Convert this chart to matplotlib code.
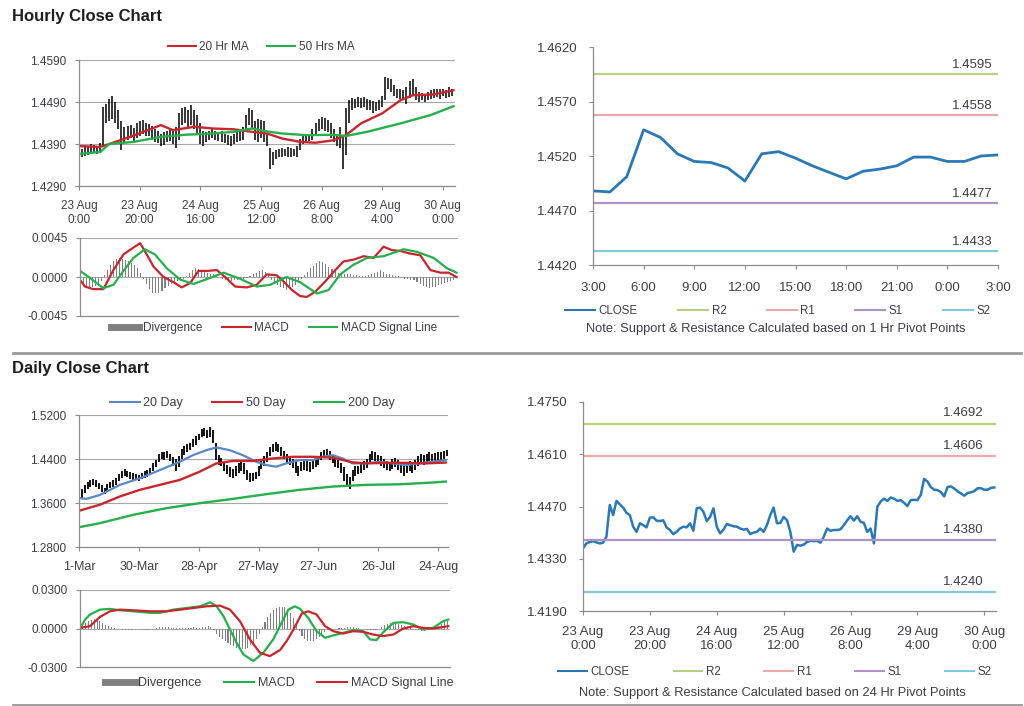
import numpy as np
import matplotlib.pyplot as plt
from matplotlib.lines import Line2D

plt.rcParams['font.family'] = ['Liberation Sans', 'DejaVu Sans']
plt.rcParams['font.size'] = 8

# ---------------- data ----------------
# hourly highs / lows (23 Aug 0:00 -> 30 Aug 3:00, 124 bars)
h_low = [1.4352, 1.4358, 1.4362, 1.4365, 1.4368, 1.4370, 1.4366, 1.4368, 1.4385, 1.4440,
         1.4445, 1.4450, 1.4440, 1.4425, 1.4375, 1.4395, 1.4400, 1.4405, 1.4398, 1.4405,
         1.4410, 1.4415, 1.4410, 1.4408, 1.4400, 1.4395, 1.4392, 1.4385, 1.4388, 1.4395,
         1.4398, 1.4390, 1.4380, 1.4400, 1.4435, 1.4440, 1.4430, 1.4435, 1.4425, 1.4415,
         1.4390, 1.4385, 1.4395, 1.4400, 1.4405, 1.4400, 1.4398, 1.4395, 1.4392, 1.4388,
         1.4385, 1.4390, 1.4395, 1.4398, 1.4400, 1.4420, 1.4435, 1.4425, 1.4400, 1.4395,
         1.4405, 1.4395, 1.4385, 1.4330, 1.4340, 1.4355, 1.4358, 1.4360, 1.4362, 1.4358,
         1.4360, 1.4362, 1.4358, 1.4375, 1.4390, 1.4395, 1.4398, 1.4400, 1.4410, 1.4420,
         1.4425, 1.4420, 1.4418, 1.4405, 1.4395, 1.4385, 1.4380, 1.4330, 1.4365, 1.4440,
         1.4470, 1.4475, 1.4478, 1.4475, 1.4478, 1.4472, 1.4470, 1.4465, 1.4468, 1.4472,
         1.4478, 1.4495, 1.4520, 1.4515, 1.4505, 1.4500, 1.4498, 1.4495, 1.4485, 1.4500,
         1.4505, 1.4495, 1.4490, 1.4495, 1.4490, 1.4495, 1.4498, 1.4500, 1.4502, 1.4498,
         1.4505, 1.4500, 1.4502, 1.4505]
h_high = [1.4372, 1.4378, 1.4382, 1.4385, 1.4390, 1.4388, 1.4386, 1.4392, 1.4478, 1.4485,
          1.4498, 1.4505, 1.4490, 1.4470, 1.4445, 1.4430, 1.4432, 1.4435, 1.4428, 1.4440,
          1.4445, 1.4448, 1.4440, 1.4438, 1.4432, 1.4425, 1.4420, 1.4415, 1.4418, 1.4422,
          1.4428, 1.4425, 1.4430, 1.4465, 1.4475, 1.4478, 1.4470, 1.4482, 1.4470, 1.4460,
          1.4440, 1.4420, 1.4418, 1.4422, 1.4425, 1.4420, 1.4418, 1.4420, 1.4415, 1.4412,
          1.4410, 1.4415, 1.4418, 1.4420, 1.4430, 1.4460, 1.4475, 1.4472, 1.4445, 1.4450,
          1.4448, 1.4445, 1.4415, 1.4380, 1.4372, 1.4375, 1.4378, 1.4380, 1.4378, 1.4382,
          1.4380, 1.4378, 1.4385, 1.4402, 1.4415, 1.4412, 1.4415, 1.4425, 1.4440, 1.4450,
          1.4455, 1.4452, 1.4448, 1.4440, 1.4425, 1.4415, 1.4430, 1.4410, 1.4475, 1.4495,
          1.4500, 1.4498, 1.4502, 1.4500, 1.4503, 1.4498, 1.4495, 1.4492, 1.4490, 1.4495,
          1.4505, 1.4550, 1.4548, 1.4545, 1.4530, 1.4522, 1.4520, 1.4518, 1.4525, 1.4540,
          1.4545, 1.4525, 1.4515, 1.4512, 1.4510, 1.4515, 1.4518, 1.4520, 1.4522, 1.4520,
          1.4522, 1.4518, 1.4525, 1.4522]
# hourly closes (same 124 bars)
h_close = [1.4358, 1.4371, 1.4375, 1.4377, 1.4374, 1.4371, 1.4373, 1.4389, 1.4474, 1.4447,
           1.4485, 1.4476, 1.4467, 1.4453, 1.4447, 1.4416, 1.4402, 1.4425, 1.4420, 1.4414,
           1.4440, 1.4441, 1.4432, 1.4431, 1.4433, 1.4414, 1.4407, 1.4396, 1.4402, 1.4411,
           1.4416, 1.4414, 1.4425, 1.4405, 1.4465, 1.4467, 1.4456, 1.4431, 1.4442, 1.4465,
           1.4416, 1.4398, 1.4408, 1.4423, 1.4420, 1.4417, 1.4416, 1.4411, 1.4408, 1.4410,
           1.4396, 1.4400, 1.4402, 1.4411, 1.4402, 1.4420, 1.4447, 1.4467, 1.4425, 1.4426,
           1.4442, 1.4433, 1.4402, 1.4349, 1.4367, 1.4365, 1.4368, 1.4375, 1.4378, 1.4377,
           1.4378, 1.4373, 1.4389, 1.4411, 1.4405, 1.4407, 1.4407, 1.4409, 1.4420, 1.4433,
           1.4444, 1.4432, 1.4444, 1.4429, 1.4426, 1.4402, 1.4411, 1.4371, 1.4469, 1.4483,
           1.4491, 1.4485, 1.4494, 1.4491, 1.4485, 1.4487, 1.4480, 1.4471, 1.4487,
           1.4488, 1.4487, 1.4501, 1.4544, 1.4537, 1.4522, 1.4515, 1.4514, 1.4509, 1.4497,
           1.4522, 1.4524, 1.4518, 1.4511, 1.4505, 1.4499, 1.4506, 1.4508, 1.4511, 1.4519,
           1.4519, 1.4515, 1.4515, 1.4520, 1.4521]
h_ticklabels = ['23 Aug\n0:00', '23 Aug\n20:00', '24 Aug\n16:00', '25 Aug\n12:00',
                '26 Aug\n8:00', '29 Aug\n4:00', '30 Aug\n0:00']

ma20h_x = [0, 7, 10, 18, 27, 31, 38, 44, 51, 57, 62, 67, 73, 78, 84, 88, 93, 100, 106, 110, 117, 123.5]
ma20h_y = [1.4385, 1.4383, 1.4390, 1.4410, 1.4435, 1.4423, 1.4431, 1.4427, 1.4425, 1.4419, 1.4415,
           1.4403, 1.4395, 1.4393, 1.4399, 1.4411, 1.4439, 1.4463, 1.4494, 1.4506, 1.4508, 1.4518]
ma50h_x = [0, 7, 10, 18, 27, 35, 44, 51, 57, 62, 67, 75, 84, 88, 95, 106, 116, 123.5]
ma50h_y = [1.4366, 1.4371, 1.4390, 1.4395, 1.4407, 1.4412, 1.4415, 1.4419, 1.4427, 1.4420, 1.4415,
           1.4411, 1.4412, 1.4409, 1.4419, 1.4439, 1.4459, 1.4480]

macdh_x = [0, 1.6, 4.4, 7.7, 11, 14.3, 17.6, 19.8, 22, 24.2, 27.5, 30.8, 33.5, 36.3, 39, 41.8, 45.1,
           48.4, 51.1, 54.9, 58.2, 61.5, 64.8, 67, 69.8, 72.5, 74.7, 77.5, 80.8, 84.1, 86.8, 90.1,
           93.4, 96.7, 100, 102.7, 105.5, 108.8, 112.1, 115.4, 118.7, 121.4, 124]
macdh_y = [-0.0003, -0.0011, -0.0014, -0.0014, 0.0008, 0.0026, 0.0034, 0.0039, 0.0026, 0.0012,
           0.0000, -0.0006, -0.0012, -0.0007, 0.0007, 0.0007, 0.0008, -0.0002, -0.0011, -0.0012,
           -0.0009, 0.0003, 0.0002, -0.0005, -0.0015, -0.0022, -0.0023, -0.0017, -0.0005, 0.0008,
           0.0018, 0.0020, 0.0024, 0.0022, 0.0035, 0.0031, 0.0030, 0.0027, 0.0025, 0.0008,
           0.0005, 0.0005, 0.0000]
sigh_x = [0, 3.3, 7.7, 11, 14.3, 17.6, 21.4, 24.7, 28.6, 33, 37.4, 42.9, 47.3, 52.7, 58.2, 62.6, 68,
          72.5, 78, 81.9, 85.7, 90, 94.5, 100, 106.6, 111, 116.5, 120.9, 124]
sigh_y = [0.0007, -0.0001, -0.0013, -0.0009, 0.0007, 0.0022, 0.0032, 0.0026, 0.0010, -0.0003,
          -0.0008, -0.0001, 0.0005, -0.0002, -0.0011, -0.0009, 0.0000, -0.0006, -0.0019, -0.0015,
          0.0003, 0.0014, 0.0022, 0.0024, 0.0032, 0.0029, 0.0022, 0.0010, 0.0005]
divh = [-0.0004, -0.0008, -0.0011, -0.0012, -0.0011, -0.0010, -0.0008, -0.0005, 0.0002, 0.0008,
        0.0014, 0.0018, 0.0021, 0.0022, 0.0021, 0.0020, 0.0018, 0.0016, 0.0014, 0.0010,
        0.0005, -0.0002, -0.0008, -0.0014, -0.0018, -0.0019, -0.0018, -0.0016, -0.0013, -0.0010,
        -0.0008, -0.0006, -0.0005, -0.0004, -0.0002, 0.0001, 0.0005, 0.0008, 0.0010, 0.0009,
        0.0007, 0.0006, 0.0005, 0.0004, 0.0003, 0.0002, 0.0000, -0.0002, -0.0003, -0.0004,
        -0.0005, -0.0004, -0.0003, -0.0003, -0.0002, -0.0001, 0.0001, 0.0003, 0.0005, 0.0007,
        0.0008, 0.0006, 0.0003, -0.0003, -0.0006, -0.0009, -0.0011, -0.0013, -0.0015, -0.0014,
        -0.0012, -0.0009, -0.0006, -0.0002, 0.0002, 0.0006, 0.0010, 0.0013, 0.0016, 0.0018,
        0.0017, 0.0015, 0.0012, 0.0009, 0.0007, 0.0005, 0.0004, 0.0004, 0.0003, 0.0003,
        0.0002, 0.0002, 0.0001, 0.0001, 0.0001, 0.0002, 0.0003, 0.0005, 0.0006, 0.0008,
        0.0006, 0.0004, 0.0003, 0.0002, 0.0001, 0.0001, -0.0001, -0.0002, -0.0002, -0.0003,
        -0.0004, -0.0006, -0.0008, -0.0010, -0.0012, -0.0013, -0.0012, -0.0011, -0.0009, -0.0008,
        -0.0007, -0.0006, -0.0005, -0.0004]

# last 24 hours (29 Aug 3:00 -> 30 Aug 3:00) with 1 hr pivots
hr_labels = ['3:00', '6:00', '9:00', '12:00', '15:00', '18:00', '21:00', '0:00', '3:00']
piv_names = ['R2', 'R1', 'S1', 'S2']
piv1_vals = [1.4595, 1.4558, 1.4477, 1.4433]
piv24_vals = [1.4692, 1.4606, 1.4380, 1.4240]

# daily highs / lows (1-Mar -> 30-Aug, 130 trading days)
d_low = [1.366, 1.370, 1.378, 1.385, 1.390, 1.393, 1.390, 1.385, 1.380, 1.376,
         1.382, 1.388, 1.390, 1.393, 1.400, 1.405, 1.410, 1.408, 1.404, 1.401,
         1.403, 1.400, 1.404, 1.406, 1.408, 1.412, 1.418, 1.425, 1.435, 1.440,
         1.438, 1.442, 1.436, 1.428, 1.418, 1.425, 1.440, 1.448, 1.452, 1.456,
         1.462, 1.466, 1.474, 1.480, 1.482, 1.478, 1.480, 1.470, 1.438, 1.430,
         1.428, 1.418, 1.412, 1.408, 1.405, 1.410, 1.415, 1.418, 1.412, 1.402,
         1.398, 1.400, 1.404, 1.410, 1.422, 1.428, 1.435, 1.446, 1.452, 1.455,
         1.452, 1.445, 1.440, 1.432, 1.430, 1.424, 1.414, 1.410, 1.418, 1.420,
         1.418, 1.416, 1.422, 1.426, 1.430, 1.438, 1.442, 1.444, 1.438, 1.432,
         1.426, 1.424, 1.415, 1.400, 1.390, 1.386, 1.400, 1.410, 1.412, 1.414,
         1.420, 1.424, 1.432, 1.438, 1.436, 1.432, 1.428, 1.424, 1.420, 1.418,
         1.422, 1.426, 1.420, 1.414, 1.410, 1.415, 1.418, 1.414, 1.420, 1.428,
         1.432, 1.430, 1.434, 1.436, 1.433, 1.435, 1.437, 1.436, 1.440, 1.445]
d_high = [1.378, 1.385, 1.392, 1.398, 1.402, 1.404, 1.401, 1.397, 1.392, 1.388,
          1.394, 1.399, 1.401, 1.405, 1.412, 1.418, 1.421, 1.419, 1.416, 1.414,
          1.413, 1.411, 1.414, 1.418, 1.420, 1.424, 1.432, 1.438, 1.450, 1.452,
          1.453, 1.454, 1.450, 1.444, 1.440, 1.445, 1.458, 1.464, 1.468, 1.470,
          1.476, 1.482, 1.486, 1.494, 1.496, 1.492, 1.499, 1.492, 1.470, 1.448,
          1.442, 1.435, 1.430, 1.425, 1.422, 1.428, 1.432, 1.436, 1.432, 1.420,
          1.415, 1.414, 1.416, 1.428, 1.440, 1.446, 1.452, 1.462, 1.468, 1.471,
          1.468, 1.462, 1.455, 1.450, 1.446, 1.440, 1.434, 1.428, 1.434, 1.438,
          1.436, 1.434, 1.440, 1.442, 1.446, 1.452, 1.456, 1.458, 1.455, 1.448,
          1.442, 1.440, 1.432, 1.425, 1.412, 1.408, 1.420, 1.428, 1.428, 1.432,
          1.436, 1.440, 1.450, 1.454, 1.452, 1.448, 1.446, 1.440, 1.436, 1.434,
          1.440, 1.442, 1.438, 1.432, 1.428, 1.430, 1.436, 1.432, 1.438, 1.446,
          1.450, 1.448, 1.450, 1.452, 1.449, 1.451, 1.453, 1.452, 1.455, 1.4565]
d_ticklabels = ['1-Mar', '30-Mar', '28-Apr', '27-May', '27-Jun', '26-Jul', '24-Aug']

ma20d_x = [0, 2.7, 7.4, 14.4, 21.4, 28.4, 35.4, 40, 44.7, 48.2, 52.9, 57.5, 62.2, 65.7, 69.2, 72.7,
           77.4, 82, 85.5, 89, 92.5, 96, 100.7, 105.4, 110, 114.7, 119.4, 124, 128.7]
ma20d_y = [1.3688, 1.3676, 1.3748, 1.3930, 1.4050, 1.4200, 1.4350, 1.4470, 1.4560, 1.4610, 1.4560,
           1.4470, 1.4350, 1.4290, 1.4260, 1.4320, 1.4380, 1.4380, 1.4440, 1.4470, 1.4410, 1.4320,
           1.4320, 1.4350, 1.4320, 1.4290, 1.4320, 1.4350, 1.4380]
ma50d_x = [0, 7.4, 14.4, 21.4, 28.4, 35.4, 42.4, 48.2, 54, 61, 68, 75, 82, 89, 96, 100.7, 107.7,
           114.7, 121.7, 128.7]
ma50d_y = [1.3458, 1.3570, 1.3720, 1.3840, 1.3930, 1.4020, 1.4170, 1.4320, 1.4365, 1.4365, 1.4410,
           1.4440, 1.4440, 1.4425, 1.4340, 1.4320, 1.4330, 1.4330, 1.4320, 1.4335]
ma200d_x = [0, 7.4, 19, 30.7, 42.4, 54, 65.7, 77.4, 89, 100.7, 112.4, 124, 128.7]
ma200d_y = [1.3160, 1.3234, 1.3385, 1.3506, 1.3597, 1.3675, 1.3760, 1.3839, 1.3899, 1.3930,
            1.3940, 1.3972, 1.3990]

macdd_x = [0, 1.8, 3.5, 7, 10.5, 14, 18.7, 24.6, 28.1, 32.8, 37.5, 42.2, 45.7, 48, 50.4, 52.7, 55,
           57.4, 60.9, 64.4, 67.9, 70.8, 73.2, 75.5, 77.3, 80.2, 83.1, 86.1, 89, 92.5, 96, 99.5,
           101.9, 104.2, 106.6, 110.1, 113.6, 117.1, 120.6, 124.1, 127.6, 129.4]
macdd_y = [0.0000, 0.0070, 0.0109, 0.0147, 0.0153, 0.0142, 0.0134, 0.0122, 0.0122, 0.0147,
           0.0160, 0.0173, 0.0204, 0.0173, 0.0096, -0.0008, -0.0111, -0.0202, -0.0253, -0.0189,
           -0.0085, 0.0044, 0.0147, 0.0173, 0.0153, 0.0083, -0.0021, -0.0072, -0.0054, -0.0034,
           -0.0013, -0.0021, -0.0085, -0.0090, -0.0028, 0.0044, 0.0049, 0.0031, -0.0008, 0.0005,
           0.0057, 0.0070]
sigd_x = [0, 3.5, 7, 10.5, 14, 18.7, 24.6, 30.4, 37.5, 44.5, 49.2, 52.7, 56.2, 59.7, 63.2, 66.7,
          70.3, 72.6, 75, 77.9, 80.2, 83.1, 86.1, 89, 92.5, 96, 99.5, 103, 106.6, 110.1, 113.6,
          117.1, 120.6, 124.1, 129.4]
sigd_y = [0.0005, 0.0018, 0.0090, 0.0134, 0.0147, 0.0142, 0.0134, 0.0134, 0.0153, 0.0173,
          0.0178, 0.0147, 0.0057, -0.0085, -0.0189, -0.0215, -0.0168, -0.0098, -0.0008, 0.0116,
          0.0134, 0.0109, 0.0018, -0.0021, -0.0039, -0.0021, -0.0026, -0.0047, -0.0059, -0.0047,
          0.0000, 0.0018, 0.0005, 0.0000, 0.0018]
divd = [0.0000, 0.0020, 0.0040, 0.0060, 0.0070, 0.0075, 0.0070, 0.0060, 0.0045, 0.0030,
        0.0018, 0.0008, 0.0003, 0.0000, -0.0005, -0.0008, -0.0010, -0.0010, -0.0008, -0.0006,
        -0.0005, -0.0007, -0.0009, -0.0010, -0.0008, -0.0004, 0.0000, 0.0004, 0.0008, 0.0010,
        0.0012, 0.0008, 0.0004, 0.0002, 0.0004, 0.0006, 0.0004, 0.0003, 0.0005, 0.0006,
        0.0008, 0.0006, 0.0004, 0.0008, 0.0015, 0.0022, 0.0010, -0.0010, -0.0040, -0.0065,
        -0.0085, -0.0100, -0.0115, -0.0130, -0.0140, -0.0150, -0.0155, -0.0160, -0.0162, -0.0150,
        -0.0130, -0.0110, -0.0080, -0.0040, 0.0010, 0.0050, 0.0090, 0.0120, 0.0145, 0.0160,
        0.0168, 0.0170, 0.0165, 0.0150, 0.0120, 0.0080, 0.0030, -0.0020, -0.0060, -0.0085,
        -0.0098, -0.0100, -0.0095, -0.0085, -0.0070, -0.0050, -0.0030, -0.0015, -0.0008, -0.0004,
        -0.0002, 0.0002, 0.0004, 0.0006, 0.0008, 0.0010, 0.0008, 0.0005, 0.0002, -0.0002,
        -0.0005, -0.0010, -0.0015, -0.0012, -0.0008, 0.0000, 0.0010, 0.0025, 0.0035, 0.0040,
        0.0042, 0.0040, 0.0035, 0.0028, 0.0020, 0.0012, 0.0005, 0.0000, -0.0008, -0.0014,
        -0.0018, -0.0016, -0.0012, -0.0006, 0.0000, 0.0008, 0.0020, 0.0035, 0.0048, 0.0055]

# ---------------- style ----------------
RED = '#c8262c'
GREEN = '#25b04b'
BLUE = '#5a88c6'
CLOSE_C = '#2a78b8'
PIV_C = ['#b6d07e', '#eaa8a8', '#ae92c9', '#7fc9de']
GRAY = '#808080'
AXC = '#8c8c8c'
TXT = '#3c3c46'
W, H = 1024, 706

fig = plt.figure(figsize=(W / 100, H / 100), dpi=100)


def box(l, t, r, b):
    return fig.add_axes([l / W, 1 - b / H, (r - l) / W, (b - t) / H])


def style(ax, grid=True, fs=8.5, xfs=8.5, ypad=6):
    for s in ['top', 'right']:
        ax.spines[s].set_visible(False)
    for s in ['left', 'bottom']:
        ax.spines[s].set_color(AXC)
        ax.spines[s].set_linewidth(0.9)
    ax.tick_params(colors=AXC, labelcolor=TXT, length=3, width=0.8)
    ax.tick_params(axis='y', labelsize=fs, pad=ypad)
    ax.tick_params(axis='x', labelsize=xfs)
    if grid:
        ax.yaxis.grid(True, color='#a8a8a8', lw=0.8)
        ax.set_axisbelow(True)
    ax.yaxis.set_major_formatter(plt.FuncFormatter(lambda v, p: f'{v:.4f}'))


def legend(handles, labels, cx, cy, cs=2.0, fs=8.5, hl=2.4):
    fig.legend(handles, labels, loc='center', bbox_to_anchor=(cx / W, 1 - cy / H),
               ncol=len(labels), frameon=False, handlelength=hl, handletextpad=0.3,
               columnspacing=cs, fontsize=fs, labelcolor=TXT)


def ln(c, w=1.5):
    return Line2D([], [], color=c, lw=w)


# section titles and separators
fig.text(12 / W, 1 - 17 / H, 'Hourly Close Chart', fontsize=12, fontweight='bold', color='#1e1e1e', va='center')
fig.text(12 / W, 1 - 369 / H, 'Daily Close Chart', fontsize=12, fontweight='bold', color='#1e1e1e', va='center')
for yy in [352.5, 704.5]:
    fig.add_artist(Line2D([13 / W, 1021 / W], [1 - yy / H] * 2, color='#9a9a9a', lw=2))

# ---- hourly candles ----
ax = box(79, 60, 455, 186)
style(ax)
xh = np.arange(len(h_low))
ax.vlines(xh, h_low, h_high, color='black', lw=1.1)
ax.plot(ma20h_x, ma20h_y, color=RED, lw=1.7)
ax.plot(ma50h_x, ma50h_y, color=GREEN, lw=1.7)
ax.set_ylim(1.4290, 1.4590)
ax.set_yticks([1.4290, 1.4390, 1.4490, 1.4590])
ax.set_xlim(0, 124)
ax.set_xticks(range(0, 121, 20))
ax.set_xticklabels(h_ticklabels)
ax.tick_params(axis='x', pad=7)
legend([ln(RED), ln(GREEN)], ['20 Hr MA', '50 Hrs MA'], 261, 47, cs=1.5)

# ---- hourly MACD ----
ax = box(80, 238, 458, 316)
style(ax)
ax.bar(xh, divh, width=0.35, color=GRAY)
ax.plot(macdh_x, macdh_y, color=RED, lw=1.6)
ax.plot(sigh_x, sigh_y, color=GREEN, lw=1.6)
ax.set_ylim(-0.0045, 0.0045)
ax.set_yticks([-0.0045, 0.0, 0.0045])
ax.set_xlim(0, 124.5)
ax.set_xticks([])
legend([ln(GRAY, 5), ln(RED), ln(GREEN)], ['Divergence', 'MACD', 'MACD Signal Line'], 274, 328, cs=1.7)

# ---- hourly close with 1 hr pivots ----
last24 = h_close[99:]
ax = box(593, 47, 998, 265)
style(ax, grid=False, fs=9.5, xfs=9.5, ypad=8)
ax.plot(range(len(last24)), last24, color=CLOSE_C, lw=2)
for v, c in zip(piv1_vals, PIV_C):
    ax.axhline(v, color=c, lw=1.6)
    ax.annotate(f'{v:.4f}', xy=(1, v), xycoords=('axes fraction', 'data'), xytext=(-4, 2),
                textcoords='offset points', ha='right', va='bottom', fontsize=9.5, color=TXT)
ax.set_ylim(1.4420, 1.4620)
ax.set_yticks(np.arange(1.4420, 1.46201, 0.005))
ax.set_xlim(0, 24)
ax.set_xticks(range(0, 25, 3))
ax.set_xticklabels(hr_labels)
ax.tick_params(axis='x', pad=9)
legend([ln(CLOSE_C)] + [ln(c) for c in PIV_C], ['CLOSE'] + piv_names, 778, 311, cs=3.5, fs=8.3, hl=2.6)
fig.text(776 / W, 1 - 329 / H, 'Note: Support & Resistance Calculated based on 1 Hr Pivot Points',
         ha='center', va='center', fontsize=9.3, color=TXT)

# ---- daily candles ----
ax = box(79, 415, 448, 547)
style(ax, xfs=9)
xd = np.arange(len(d_low))
ax.vlines(xd, d_low, d_high, color='black', lw=1.3)
ax.plot(ma20d_x, ma20d_y, color=BLUE, lw=1.6)
ax.plot(ma50d_x, ma50d_y, color=RED, lw=1.7)
ax.plot(ma200d_x, ma200d_y, color=GREEN, lw=1.7)
ax.set_ylim(1.2800, 1.5200)
ax.set_yticks([1.2800, 1.3600, 1.4400, 1.5200])
ax.set_xlim(0, 129.5)
ax.set_xticks(range(0, 127, 21))
ax.set_xticklabels(d_ticklabels)
ax.tick_params(axis='x', pad=7)
legend([ln(BLUE), ln(RED), ln(GREEN)], ['20 Day', '50 Day', '200 Day'], 252, 403, cs=2.3, fs=9)

# ---- daily MACD ----
ax = box(80, 590, 450, 667)
style(ax)
ax.bar(xd, divd, width=0.4, color=GRAY)
ax.plot(macdd_x, macdd_y, color=GREEN, lw=1.6)
ax.plot(sigd_x, sigd_y, color=RED, lw=1.6)
ax.set_ylim(-0.03, 0.03)
ax.set_yticks([-0.03, 0.0, 0.03])
ax.set_xlim(0, 130)
ax.set_xticks([])
legend([ln(GRAY, 5), ln(GREEN), ln(RED)], ['Divergence', 'MACD', 'MACD Signal Line'], 279, 683, cs=1.8, fs=9)

# ---- hourly close with 24 hr pivots ----
ax = box(583, 402, 996, 611)
style(ax, grid=False, fs=9.5, xfs=9.5, ypad=8)
ax.plot(xh, h_close, color=CLOSE_C, lw=1.8)
for v, c in zip(piv24_vals, PIV_C):
    ax.axhline(v, color=c, lw=1.6)
    ax.annotate(f'{v:.4f}', xy=(1, v), xycoords=('axes fraction', 'data'), xytext=(-9, 3),
                textcoords='offset points', ha='right', va='bottom', fontsize=9.5, color=TXT)
ax.set_ylim(1.4190, 1.4750)
ax.set_yticks(np.arange(1.4190, 1.47501, 0.014))
ax.set_xlim(0, 123.5)
ax.set_xticks(range(0, 121, 20))
ax.set_xticklabels(h_ticklabels)
ax.tick_params(axis='x', pad=8)
legend([ln(CLOSE_C)] + [ln(c) for c in PIV_C], ['CLOSE'] + piv_names, 775, 672, cs=3.8, fs=8.3, hl=2.5)
fig.text(772 / W, 1 - 693 / H, 'Note: Support & Resistance Calculated based on 24 Hr Pivot Points',
         ha='center', va='center', fontsize=9.3, color=TXT)

fig.savefig('out.png', dpi=100)
plt.close(fig)
